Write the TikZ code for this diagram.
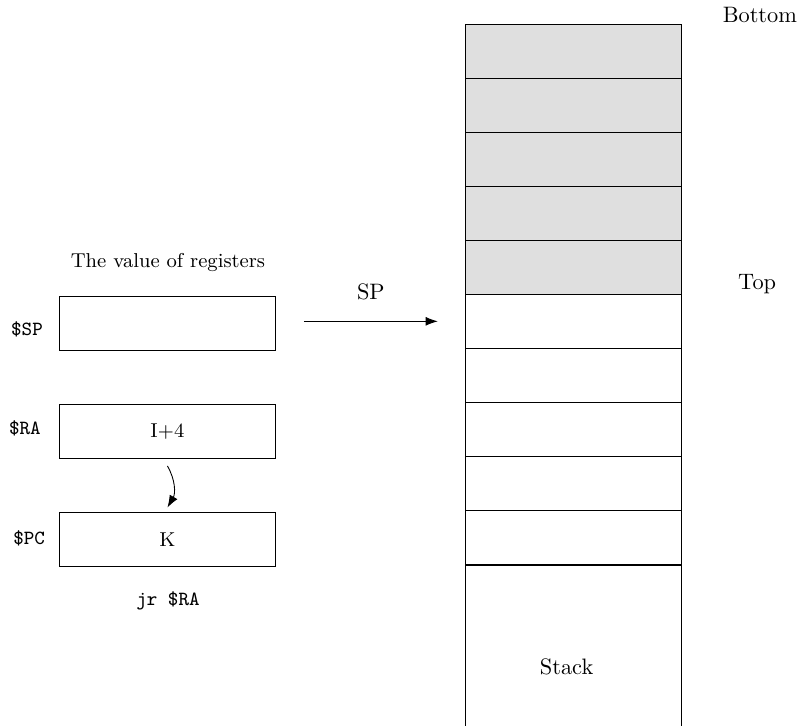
\documentclass[tikz,border=0pt]{standalone}
\usepackage{tikz}
\usetikzlibrary{arrows.meta}

\begin{document}
\begin{tikzpicture}[x=0.85cm,y=0.85cm,
        cell/.style={draw, minimum width=3.4cm, minimum height=0.85cm, inner sep=0pt},
        reg/.style={draw, minimum width=3.4cm, minimum height=0.85cm, inner sep=0pt, font=\small},
        reglabel/.style={font=\small\ttfamily},
        >={Latex[length=5.5pt,width=4pt]}]
                \useasboundingbox (0,0) rectangle (14.98,13.43);
                % stack
                \foreach \i in {1,...,5}
                    \node[cell, fill=gray!25] (c\i) at (10.61,13.48-\i) {};
                \foreach \i in {6,...,10}
                    \node[cell] (c\i) at (10.61,13.48-\i) {};
                \node[cell, minimum height=3.21cm, anchor=north] (stack) at (c10.south) {\hspace*{-0.2cm}Stack};
                \node (bottom) at (14.07,13.15) {Bottom};
                \node (top) at (14.02,8.17) {Top};
                % registers
                \node (title) at (3.11,8.57) {\small The value of registers};
                \node[reg] (sp) at (3.10,7.44) {};
                \node[reg] (ra) at (3.10,5.44) {I+4};
                \node[reg] (pc) at (3.10,3.44) {K};
                \node[reglabel] (lsp) at (0.5,7.33) {\$SP};
                \node[reglabel] (lra) at (0.46,5.5) {\$RA};
                \node[reglabel] (lpc) at (0.54,3.46) {\$PC};
                \node[reglabel] (jr) at (3.11,2.31) {jr \$RA};
                % arrows
                \draw[->] ([xshift=0.44cm]sp.east |- c6.west) -- ([xshift=-0.42cm]c6.west)
                    node[midway, above=6pt] {SP};
                \draw[->] ([yshift=-0.11cm]ra.south) to[bend left] ([yshift=0.07cm]pc.north);
            \end{tikzpicture}
\end{document}
